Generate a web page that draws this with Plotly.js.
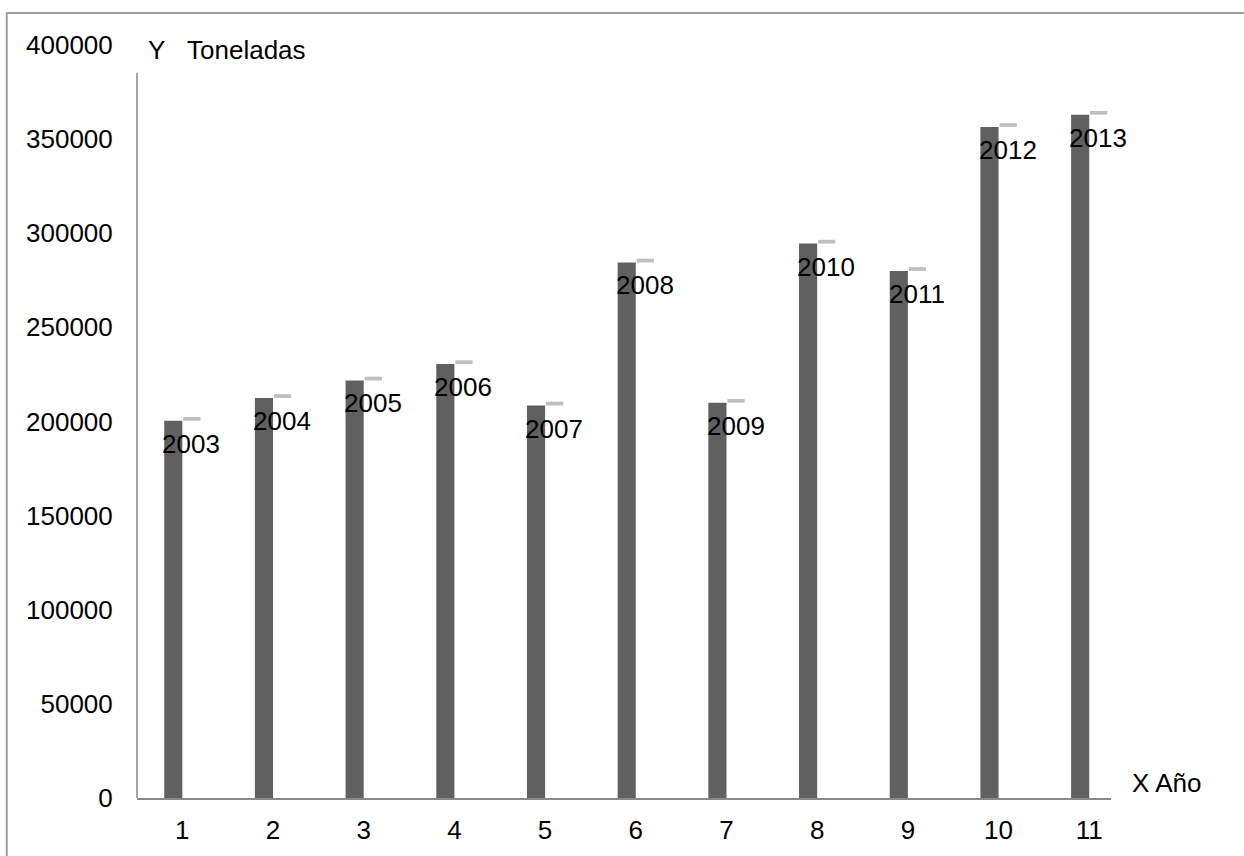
<!DOCTYPE html>
<html>
<head>
<meta charset="utf-8">
<script src="https://cdn.plot.ly/plotly-3.0.1.min.js"></script>
<style>
html,body{margin:0;padding:0;background:#fff;}
#chart{width:1244px;height:856px;}
</style>
</head>
<body>
<div id="chart"></div>
<script>
// Data
const categories = [1, 2, 3, 4, 5, 6, 7, 8, 9, 10, 11];
const years = [2003, 2004, 2005, 2006, 2007, 2008, 2009, 2010, 2011, 2012, 2013];
const toneladas = [200400, 212500, 221800, 230500, 208500, 284500, 210000, 294500, 280000, 356500, 363000];
const yTicks = [0, 50000, 100000, 150000, 200000, 250000, 300000, 350000, 400000];

const FONT = 'Liberation Sans, Arial, sans-serif';

const mainBars = {
  type: 'bar',
  x: categories,
  y: toneladas,
  width: 0.2,
  offset: -0.2,
  marker: {color: '#606060', line: {width: 0}},
  hoverinfo: 'skip',
  showlegend: false
};

const yearBars = {
  type: 'bar',
  x: categories,
  y: years,
  base: toneladas,
  width: 0.19,
  offset: 0.01,
  marker: {color: '#bfbfbf', line: {width: 0}},
  hoverinfo: 'skip',
  showlegend: false
};

const labelAnnotations = categories.map((c, i) => ({
  x: c + 0.1,
  y: toneladas[i],
  xref: 'x', yref: 'y',
  text: String(years[i]),
  showarrow: false,
  xanchor: 'center',
  yanchor: 'top',
  yshift: -6,
  font: {family: FONT, size: 26, color: '#000'}
}));

const layout = {
  width: 1244,
  height: 856,
  margin: {l: 137, r: 133, t: 45, b: 58},
  paper_bgcolor: '#fff',
  plot_bgcolor: 'rgba(0,0,0,0)',
  barmode: 'overlay',
  xaxis: {
    range: [0.5, 11.24],
    tickmode: 'array',
    tickvals: categories,
    ticktext: categories.map(String),
    ticks: 'outside',
    ticklen: 8,
    tickcolor: 'rgba(0,0,0,0)',
    showline: true,
    linecolor: '#888888',
    linewidth: 1.5,
    showgrid: false,
    zeroline: false,
    tickfont: {family: FONT, size: 26, color: '#000'},
    fixedrange: true
  },
  yaxis: {
    range: [0, 400000],
    tickmode: 'array',
    tickvals: yTicks,
    ticktext: yTicks.map(String),
    ticks: 'outside',
    ticklen: 18,
    tickcolor: 'rgba(0,0,0,0)',
    showline: false,
    showgrid: false,
    zeroline: false,
    tickfont: {family: FONT, size: 26, color: '#000'},
    fixedrange: true
  },
  shapes: [
    {type: 'line', xref: 'paper', yref: 'paper', x0: 0, x1: 0, y0: 0, y1: 0.963,
     line: {color: '#888888', width: 1.5}},
    {type: 'line', xref: 'paper', yref: 'paper', x0: -0.1337, x1: -0.1337, y0: -0.08, y1: 1.043,
     line: {color: '#a0a0a0', width: 2}},
    {type: 'line', xref: 'paper', yref: 'paper', x0: -0.1337, x1: 1.14, y0: 1.0425, y1: 1.0425,
     line: {color: '#a0a0a0', width: 2}}
  ],
  annotations: labelAnnotations.concat([
    {xref: 'paper', yref: 'paper', x: 0.0093, y: 0.993, xanchor: 'left', yanchor: 'middle',
     text: 'Y\u00A0\u00A0\u00A0Toneladas', showarrow: false,
     font: {family: FONT, size: 26, color: '#000'}},
    {xref: 'paper', yref: 'paper', x: 1.02, y: 0.02, xanchor: 'left', yanchor: 'middle',
     text: 'X Año', showarrow: false,
     font: {family: FONT, size: 26, color: '#000'}}
  ])
};

Plotly.newPlot('chart', [mainBars, yearBars], layout, {displayModeBar: false, staticPlot: true});
</script>
</body>
</html>
